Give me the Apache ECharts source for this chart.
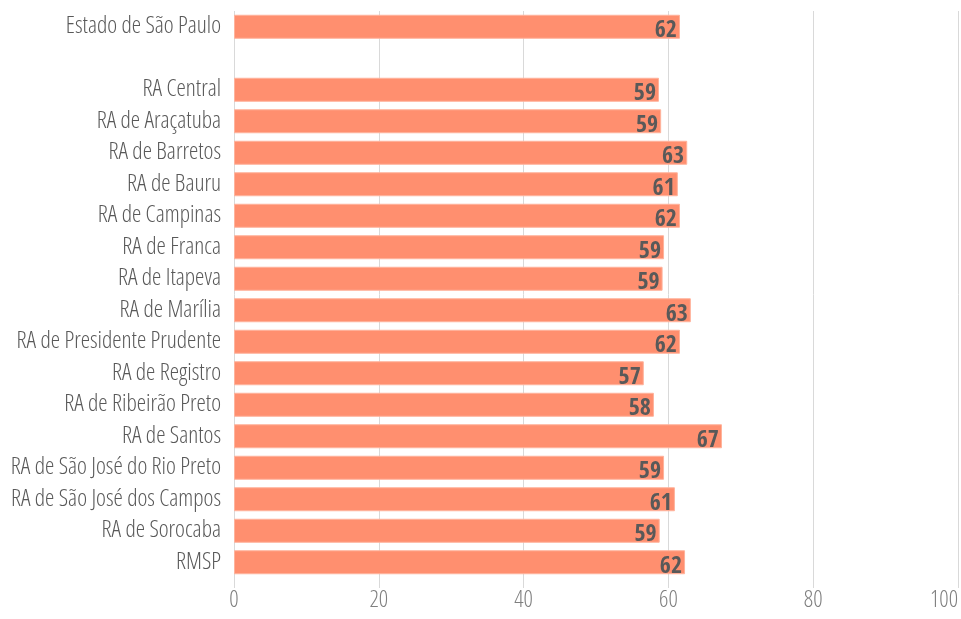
<!DOCTYPE html>
<html><head><meta charset="utf-8">
<script src="https://cdn.jsdelivr.net/npm/echarts@6/dist/echarts.min.js"></script>
<style>html,body{margin:0;padding:0;background:#fff}#c{width:961px;height:619px}</style>
</head><body><div id="c"></div>
<script>
const categories = ["Estado de São Paulo", "", "RA Central", "RA de Araçatuba", "RA de Barretos", "RA de Bauru", "RA de Campinas", "RA de Franca", "RA de Itapeva", "RA de Marília", "RA de Presidente Prudente", "RA de Registro", "RA de Ribeirão Preto", "RA de Santos", "RA de São José do Rio Preto", "RA de São José dos Campos", "RA de Sorocaba", "RMSP"];
const values = [61.6, null, 58.7, 59.0, 62.6, 61.3, 61.6, 59.4, 59.2, 63.1, 61.6, 56.6, 58.0, 67.4, 59.4, 60.9, 58.8, 62.3];
const xTicks = [0, 20, 40, 60, 80, 100];

const FONT_B = '"Open Sans Condensed", "DejaVu Sans Condensed", sans-serif';
const FONT_L = '"Open Sans", "DejaVu Sans Condensed", sans-serif';
const chart = echarts.init(document.getElementById('c'), null, {renderer: 'canvas'});
chart.setOption({
  animation: false,
  grid: {left: 234, right: 3, top: 11, bottom: 41, containLabel: false, outerBoundsMode: 'none'},
  xAxis: {
    type: 'value', min: xTicks[0], max: xTicks[xTicks.length - 1], interval: 20,
    axisLine: {show: false},
    axisTick: {show: true, length: 10, lineStyle: {color: '#d9d9d9', width: 1}},
    splitLine: {show: true, lineStyle: {color: '#d9d9d9', width: 1}},
    axisLabel: {color: '#7f7f7f', fontSize: 23, fontStyle: 'condensed', fontWeight: 300, fontFamily: FONT_L, margin: 11, alignMaxLabel: 'right'}
  },
  yAxis: {
    type: 'category', data: categories, inverse: true,
    axisLine: {show: false}, axisTick: {show: false},
    axisLabel: {color: '#595959', fontSize: 23.5, fontStyle: 'condensed', fontWeight: 300, fontFamily: FONT_L, margin: 13}
  },
  series: [{
    type: 'bar', data: values, barWidth: 24,
    itemStyle: {color: '#FF8F6F', borderColor: '#FFB39C', borderWidth: 1},
    label: {
      show: true, position: 'insideRight', offset: [2, 4],
      formatter: p => p.value == null ? '' : Math.round(p.value),
      color: '#595959', fontSize: 24, fontWeight: 'bold', fontFamily: FONT_B
    }
  }]
});
</script></body></html>
